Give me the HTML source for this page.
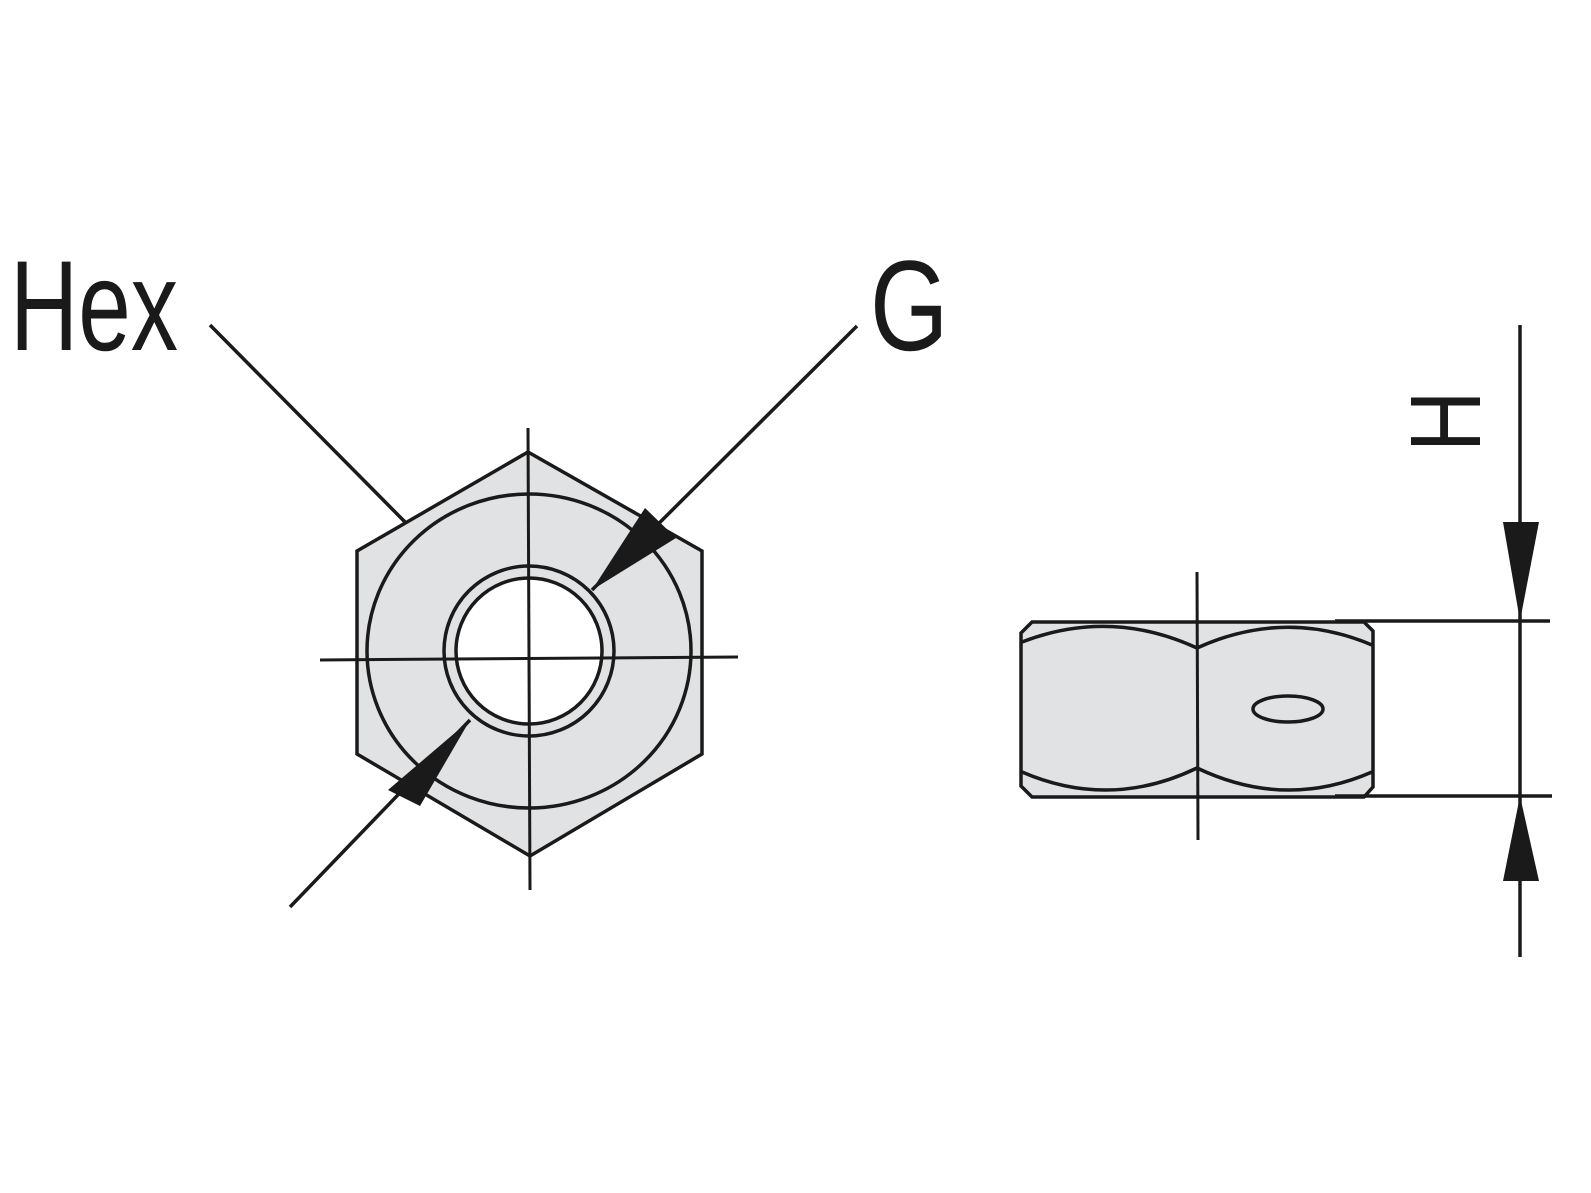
<!DOCTYPE html>
<html><head><meta charset="utf-8"><style>
html,body{margin:0;padding:0;background:#fff;}
svg{display:block;}
text{font-family:"Liberation Sans",sans-serif;fill:#1a1a1a;}
</style></head><body>
<svg width="1591" height="1193" viewBox="0 0 1591 1193" xmlns="http://www.w3.org/2000/svg">
<g stroke="#1a1a1a" stroke-width="3.5" fill="none">
  <polygon points="528,452 702,551 702,754 530,856 357,754 357,551" fill="#e1e2e4"/>
  <ellipse cx="529" cy="651" rx="162" ry="157"/>
  <circle cx="529" cy="651" r="85" fill="#e1e2e4"/>
  <circle cx="529" cy="651" r="73" fill="#fff"/>
  <line x1="528" y1="428" x2="530" y2="890" stroke-width="3"/>
  <line x1="320" y1="660" x2="738" y2="657" stroke-width="3"/>
  <line x1="210" y1="325" x2="405" y2="522"/>
  <line x1="857" y1="326" x2="592" y2="590"/>
  <line x1="290" y1="907" x2="470" y2="720"/>
</g>
<polygon points="592,590 645,508 676,538" fill="#1a1a1a"/>
<polygon points="470,720 388,790 420,806" fill="#1a1a1a"/>
<text x="0" y="0" font-size="126" transform="translate(10 350) scale(0.75 1.02)">Hex</text>
<text x="0" y="0" font-size="126" transform="translate(870 350) scale(0.8 1.02)">G</text>

<g stroke="#1a1a1a" stroke-width="3.5" fill="none">
  <path d="M1032,622 L1364,622 L1373,631 L1373,787 L1364,797 L1032,797 L1021,786 L1021,633 Z" fill="#e1e2e4"/>
  <path d="M1022,642 Q1110,608 1197,648 Q1285,608 1372,645"/>
  <path d="M1022,772 Q1110,810 1197,768 Q1285,810 1372,772"/>
  <ellipse cx="1288" cy="709" rx="35" ry="13" fill="#e1e2e4"/>
  <line x1="1197" y1="572" x2="1198" y2="840" stroke-width="3"/>
  <line x1="1335" y1="621" x2="1550" y2="621"/>
  <line x1="1335" y1="796" x2="1552" y2="796"/>
  <line x1="1520" y1="325" x2="1520" y2="957"/>
</g>
<polygon points="1520,621 1503,522 1539,522" fill="#1a1a1a"/>
<polygon points="1520,796 1503,881 1539,881" fill="#1a1a1a"/>
<text x="0" y="0" font-size="100" transform="translate(1480 452) rotate(-90) scale(0.85 1)">H</text>
</svg>
</body></html>
